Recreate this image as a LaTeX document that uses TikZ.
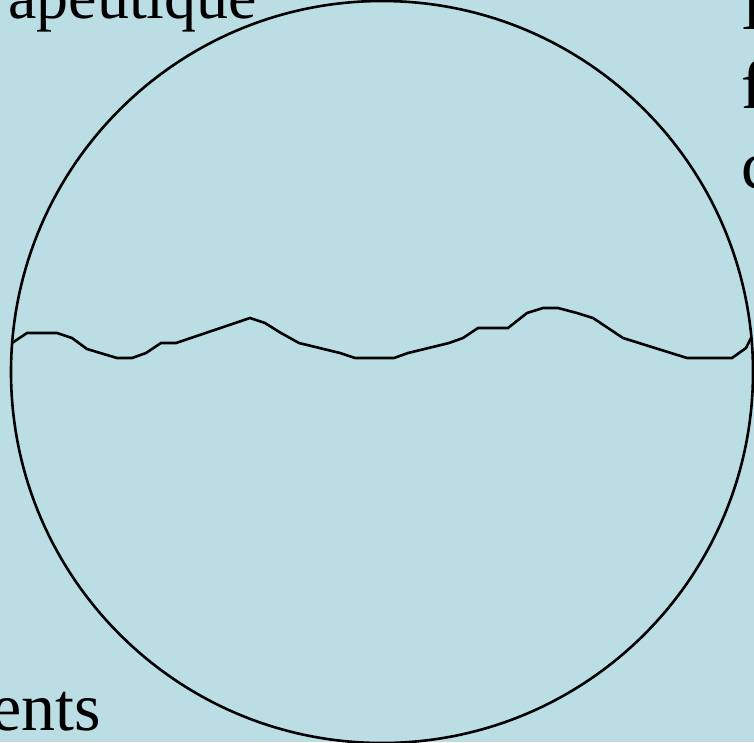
\documentclass[tikz,border=0pt]{standalone}
\usepackage{fontspec}
\setmainfont{Liberation Serif}
\usepackage{tikz}
\usetikzlibrary{positioning}
\definecolor{cwsea}  {HTML}{BBDEE4}
\definecolor{cwink}  {HTML}{000000}
\tikzset{
  cwrim/.style={draw=cwink, line width=2.6pt},
  cwwave/.style={draw=cwink, line width=2.6pt, line join=miter},
  cwtext/.style={inner sep=0pt, anchor=base west, text=cwink,
                 font=\fontsize{64}{79}\selectfont},
}
\begin{document}
\begin{tikzpicture}[x=1pt,y=-1pt]
  \fill[cwsea] (0,0) rectangle (754,742);
  \useasboundingbox (0,0) rectangle (754,742);
  % the disc and its water line
  \coordinate (centre) at (382,372);
  \draw[cwrim] (centre) circle[radius=371];
  \coordinate (wL) at (12,343);
  \coordinate (wR) at (751,338);
  \draw[cwwave] (wL) -- (27,333) -- (57,333) -- (72,338) -- (87,349) -- (117,358)
    -- (132,358) -- (146,353) -- (161,343) -- (176,343) -- (250,318) -- (265,323)
    -- (281,333) -- (299,343) -- (340,353) -- (355,358) -- (394,358) -- (408,353)
    -- (449,343) -- (463,338) -- (478,328) -- (508,328) -- (527,313) -- (543,308)
    -- (558,308) -- (577,313) -- (593,318) -- (623,338) -- (687,358) -- (732,358)
    -- (746,348) -- (wR);
  % texts cut by the frame
  \node[cwtext] (topleft) at (8,18) {apeutique};
  \node[cwtext, font=\fontsize{68}{79}\selectfont] (botleft) at (-9,730) {ents};
  \node[cwtext, font=\fontsize{68}{79}\selectfont] (rightA) at (741,29) {I};
  \node[cwtext, font=\fontsize{68}{79}\selectfont] (rightB) at (741,108) {f};
  \node[cwtext, font=\fontsize{68}{79}\selectfont] (rightC) at (741,188) {c};
\end{tikzpicture}
\end{document}
